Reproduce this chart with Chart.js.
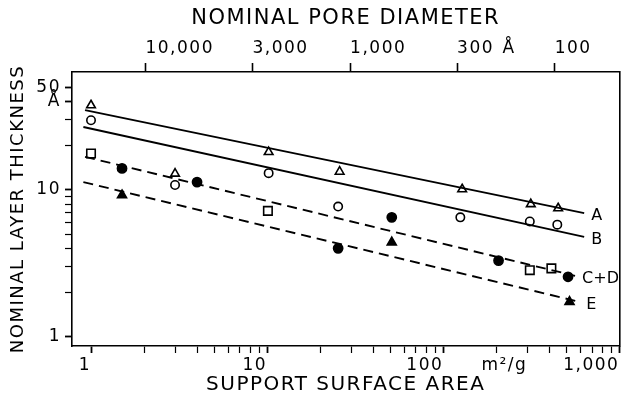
<!DOCTYPE html>
<html><head><meta charset="utf-8">
<script src="https://cdn.jsdelivr.net/npm/chart.js@4.4.1/dist/chart.umd.min.js"></script>
<style>html,body{margin:0;padding:0;background:#fff}canvas{display:block}</style>
</head><body>
<canvas id="c" width="627" height="405"></canvas>
<script>
// ---- data (x: support surface area m²/g, y: layer thickness Å) ----
const seriesA_x = [1.0, 3.0, 10.2, 25.8, 128, 314, 449];      // open triangles
const seriesA_y = [37.7, 12.9, 18.1, 13.3, 10.1, 8.0, 7.5];
const seriesB_x = [1.0, 3.0, 10.2, 25.3, 125, 310, 444];      // open circles
const seriesB_y = [29.8, 10.8, 13.0, 7.7, 6.5, 6.1, 5.8];
const seriesC_x = [1.0, 10.1, 310, 411];                       // open squares
const seriesC_y = [17.7, 7.2, 2.84, 2.92];
const seriesD_x = [1.5, 4.0, 25.3, 51, 206, 511];              // filled circles
const seriesD_y = [14.0, 11.3, 4.0, 6.5, 3.3, 2.56];
const seriesE_x = [1.5, 51, 521];                              // filled triangles
const seriesE_y = [9.2, 4.4, 1.73];

// fitted lines (end points)
const lineA_x = [0.925, 631];  const lineA_y = [34.9, 6.94];
const lineB_x = [0.905, 631];  const lineB_y = [26.8, 4.79];
const lineCD_x = [0.925, 560]; const lineCD_y = [16.8, 2.60];
const lineE_x = [0.905, 591];  const lineE_y = [11.3, 1.73];
const lineNames = ['A', 'B', 'C+D', 'E'];

// tick values / labels
const xTickValues = [1,2,3,4,5,6,7,8,9,10,20,30,40,50,60,70,80,90,100,200,300,400,500,600,700,800,900,1000];
const xTickLabelValues = [1, 10, 100, 300, 1000];
const xTickLabelTexts  = ['1', '10', '100', 'm²/g', '1,000'];
const yTickValues = [1,2,3,4,5,6,7,8,9,10,20,30,40,50];
const yTickLabelValues = [1, 10, 40, 50];
const yTickLabelTexts  = ['1', '10', 'Å', '50'];
const topTickValues = [10000, 3000, 1000, 300, 180, 100];
const topTickLabels = ['10,000', '3,000', '1,000', '300', 'Å', '100'];
const topUnitTick = 180;

const xTitle = 'SUPPORT SURFACE AREA';
const yTitle = 'NOMINAL LAYER THICKNESS';
const topTitle = 'NOMINAL PORE DIAMETER';

// ---- build ----
const pts = (xs, ys) => xs.map((x, i) => ({x, y: ys[i]}));
const FONT = 'DejaVu Sans';
const INK = '#000';

function lineDs(xs, ys, dash, name) {
  return {type: 'line', label: name, data: pts(xs, ys), showLine: true, borderColor: INK,
    borderWidth: 1.9, borderDash: dash, pointRadius: 0, fill: false, tension: 0, isFit: true};
}
function markDs(xs, ys, style, filled, r) {
  return {type: 'scatter', data: pts(xs, ys), pointStyle: style, pointRadius: r,
    pointBorderWidth: 1.6, pointBorderColor: INK, pointBackgroundColor: filled ? INK : '#fff', showLine: false};
}

const labelPlugin = {
  id: 'lineLabels',
  beforeDraw(chart) { chart.ctx.letterSpacing = '1.5px'; },
  afterDatasetsDraw(chart) {
    const ctx = chart.ctx;
    ctx.save();
    ctx.letterSpacing = '0px';
    ctx.font = '16px "' + FONT + '"';
    ctx.fillStyle = INK;
    ctx.textBaseline = 'middle';
    ctx.textAlign = 'left';
    let k = 0;
    chart.data.datasets.forEach((ds, i) => {
      if (!ds.isFit) return;
      const meta = chart.getDatasetMeta(i);
      const p = meta.data[meta.data.length - 1];
      ctx.fillText(lineNames[k], p.x + 7, p.y + 3);
      k++;
    });
    ctx.restore();
  }
};

const setTicks = (vals) => (s) => { s.ticks = vals.map(v => ({value: v})); };
const labelFor = (vals, texts) => (v) => { const i = vals.indexOf(v); return i >= 0 ? texts[i] : ''; };

new Chart(document.getElementById('c'), {
  type: 'scatter',
  data: {
    datasets: [
      lineDs(lineA_x, lineA_y, [], 'A'),
      lineDs(lineB_x, lineB_y, [], 'B'),
      lineDs(lineCD_x, lineCD_y, [10, 6], 'C+D'),
      lineDs(lineE_x, lineE_y, [10, 6], 'E'),
      markDs(seriesA_x, seriesA_y, 'triangle', false, 5),
      markDs(seriesB_x, seriesB_y, 'circle', false, 4.2),
      markDs(seriesC_x, seriesC_y, 'rect', false, 6),
      markDs(seriesD_x, seriesD_y, 'circle', true, 4.6),
      markDs(seriesE_x, seriesE_y, 'triangle', true, 5.2)
    ]
  },
  options: {
    responsive: false, animation: false, devicePixelRatio: 1,
    layout: {padding: {left: 0, right: 4, top: 0, bottom: 0}},
    plugins: {legend: {display: false}, tooltip: {enabled: false}},
    scales: {
      x: {
        type: 'logarithmic', position: 'bottom', min: 0.78, max: 1000,
        afterBuildTicks: setTicks(xTickValues),
        afterFit: s => { s.height = 59; },
        border: {display: true, color: INK, width: 1.6},
        grid: {drawOnChartArea: false, drawTicks: true, tickLength: 7, tickColor: INK,
               tickWidth: c => (xTickLabelValues.includes(c.tick.value) && c.tick.value !== 300) ? 1.8 : 1.2},
        ticks: {autoSkip: false, maxRotation: 0, align: 'end', padding: 2, color: INK,
                font: {family: FONT, size: 17}, callback: labelFor(xTickLabelValues, xTickLabelTexts)},
        title: {display: true, text: xTitle, color: INK, font: {family: FONT, size: 20},
                padding: {top: 0, bottom: 8}}
      },
      x2: {
        type: 'logarithmic', position: 'top', reverse: true, min: 48.3, max: 22860,
        afterBuildTicks: setTicks(topTickValues),
        afterFit: s => { s.height = 72; },
        border: {display: true, color: INK, width: 1.6},
        grid: {drawOnChartArea: false, drawTicks: true, tickLength: 9,
               tickColor: c => c.tick.value === topUnitTick ? 'rgba(0,0,0,0)' : INK, tickWidth: 1.6},
        ticks: {autoSkip: false, maxRotation: 0, align: 'start', padding: 4, color: INK,
                font: {family: FONT, size: 17}, callback: labelFor(topTickValues, topTickLabels)},
        title: {display: true, text: topTitle, color: INK, font: {family: FONT, size: 21},
                padding: {top: 6, bottom: 0}}
      },
      y: {
        type: 'logarithmic', position: 'left', min: 0.865, max: 63.5,
        afterBuildTicks: setTicks(yTickValues),
        afterFit: s => { s.width = 72; },
        border: {display: true, color: INK, width: 1.6},
        grid: {drawOnChartArea: false, drawTicks: true, tickLength: 7, tickColor: INK,
               tickWidth: c => yTickLabelValues.includes(c.tick.value) ? 1.8 : 1.2},
        ticks: {autoSkip: false, padding: 4, color: INK,
                font: {family: FONT, size: 17}, callback: labelFor(yTickLabelValues, yTickLabelTexts)},
        title: {display: true, text: yTitle, color: INK, font: {family: FONT, size: 18},
                padding: {top: 8, bottom: 0}}
      },
      y2: {
        type: 'logarithmic', position: 'right', min: 0.865, max: 63.5,
        afterFit: s => { s.width = 0; },
        border: {display: true, color: INK, width: 1.6},
        grid: {display: true, drawOnChartArea: false, drawTicks: false},
        ticks: {display: false}
      }
    }
  },
  plugins: [labelPlugin]
});
</script>
</body></html>
